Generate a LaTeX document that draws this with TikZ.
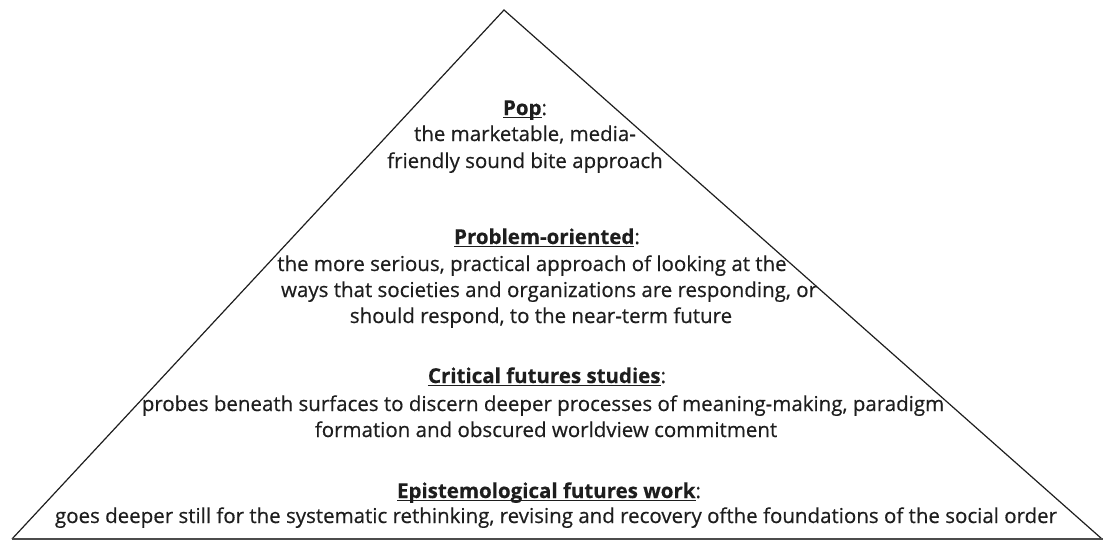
\documentclass[tikz,border=0pt]{standalone}
\usepackage{fontspec}
\setmainfont{Open Sans}[RawFeature={embolden=0.5}]
\definecolor{ink}{HTML}{1E1E1E}
\newcommand\hd[2]{\setbox0\hbox{\bfseries #1}\rlap{\rule[-3pt]{\wd0}{1.3pt}}\box0#2}
\newlength\reflen
\begin{document}
\settowidth\reflen{\fontsize{10}{12}\selectfont goes deeper still for the systematic rethinking, revising and recovery ofthe foundations of the social order}
\pgfmathsetmacro\fsz{10*1002/\reflen}
\begin{tikzpicture}[x=1pt,y=-1pt,
  txt/.style={anchor=base, inner sep=0pt, text=ink, font=\fontsize{\fsz}{\fsz}\selectfont},
  slope/.style={draw=ink, line width=1.2pt, line join=miter},
  groundline/.style={draw=black!70, line width=1.8pt}]
\useasboundingbox (0,0) rectangle (1103,541);
% triangle
\coordinate (apex) at (504,10);
\coordinate (bl) at (12,539);
\coordinate (br) at (1102,539);
\coordinate (be) at (1103,539);
\draw[slope] (bl) -- (apex) -- (br);
\draw[groundline] (bl) -- (be);
% Pop
\node[txt] (pop) at (525,115) {\hd{Pop}{:}};
\node[txt] (pop1) at (525,141) {the marketable, media-};
\node[txt] (pop2) at (525,168) {friendly sound bite approach};
% Problem-oriented
\node[txt] (prob) at (547,244) {\hd{Problem-oriented}{:}};
\node[txt] (prob1) at (532,271) {the more serious, practical approach of looking at the};
\node[txt] (prob2) at (549,297) {ways that societies and organizations are responding, or};
\node[txt] (prob3) at (541,323) {should respond, to the near-term future};
% Critical futures studies
\node[txt] (crit) at (547,383) {\hd{Critical futures studies}{:}};
\node[txt] (crit1) at (543,411) {probes beneath surfaces to discern deeper processes of meaning-making, paradigm};
\node[txt] (crit2) at (546,437) {formation and obscured worldview commitment};
% Epistemological futures work
\node[txt] (epi) at (549,498) {\hd{Epistemological futures work}{:}};
\node[txt] (epi1) at (556,523) {goes deeper still for the systematic rethinking, revising and recovery ofthe foundations of the social order};
\end{tikzpicture}
\end{document}
